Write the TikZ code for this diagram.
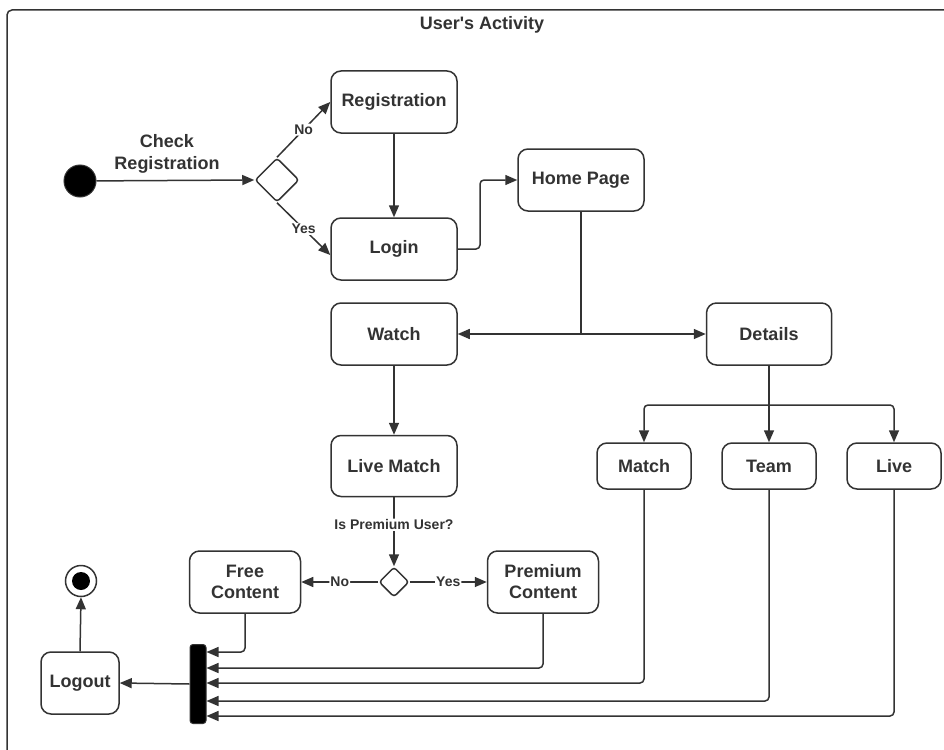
\documentclass[tikz,border=0pt]{standalone}
\usepackage{fontspec}
\setmainfont{Liberation Sans}
\usetikzlibrary{shapes.geometric,arrows.meta,calc}
\definecolor{ink}{HTML}{333333}
\begin{document}
\begin{tikzpicture}[x=1pt,y=-1pt,
  font=\bfseries\fontsize{18}{21}\selectfont,
  box/.style={draw=ink, line width=1.5pt, rounded corners=10pt, minimum width=126pt,
    minimum height=62pt, inner sep=2pt, text=ink, align=center, fill=white},
  smallbox/.style={box, minimum width=94pt, minimum height=46pt},
  midbox/.style={box, minimum width=111pt, minimum height=62pt},
  arr/.style={draw=ink, line width=1.5pt, rounded corners=4pt, -{Triangle[length=12pt,width=10pt]}},
  line/.style={draw=ink, line width=1.5pt, rounded corners=4pt},
  lbl/.style={font=\bfseries\fontsize{14}{16}\selectfont, text=ink, fill=white, inner sep=1pt},
  decision/.style={diamond, draw=ink, line width=1.5pt, fill=white, inner sep=0pt, rounded corners=3pt},
  txt/.style={text=ink, align=center}]
\useasboundingbox (0,0) rectangle (944,749);
\fill[white] (0,0) rectangle (944,749);
% frame
\draw[ink, line width=1.5pt, rounded corners=5pt] (7,10) rectangle (990,800);
\node[txt] (title) at (482,25) {User\textquotesingle s Activity};

% nodes
\node[circle, fill=black, draw=ink, line width=1pt, minimum size=32pt, inner sep=0pt] (start) at (80,181) {};
\node[txt, font=\bfseries\fontsize{18}{22}\selectfont] (chk) at (167,154) {Check\\Registration};
\node[decision, minimum width=44pt, minimum height=44pt] (d1) at (277,180) {};
\node[box] (reg) at (394,102) {Registration};
\node[box] (login) at (394,249) {Login};
\node[box] (home) at (581,180) {Home Page};
\node[box] (watch) at (394,334) {Watch};
\node[box, minimum width=125pt] (details) at (769,334) {Details};
\node[smallbox] (match) at (644,466) {Match};
\node[smallbox] (team) at (769,466) {Team};
\node[smallbox] (live) at (894,466) {Live};
\node[box, minimum height=61pt] (lmatch) at (394,466) {Live Match};
\node[decision, minimum width=30pt, minimum height=30pt] (d2) at (394,582) {};
\node[midbox] (free) at (245,582) {Free\\Content};
\node[midbox] (prem) at (543,582) {Premium\\Content};
\node[box, minimum width=78pt] (logout) at (80,683) {Logout};
\node[rectangle, rounded corners=3pt, fill=black, draw=ink, line width=1pt, minimum width=16pt, minimum height=79pt, inner sep=0pt] (bar) at (198,684) {};
\node[circle, draw=ink, line width=1.5pt, fill=white, minimum size=31pt, inner sep=0pt] (final) at (81,581) {};
\node[circle, fill=black, minimum size=18pt, inner sep=0pt] (finalin) at (81,581) {};

% helper coordinates
\coordinate (lh) at (480,249);
\coordinate (hj) at (581,334);
\coordinate (dj) at (769,405);
\coordinate (y1) at (0,652);
\coordinate (y2) at (0,668);
\coordinate (y3) at (0,683);
\coordinate (y4) at (0,701);
\coordinate (y5) at (0,716);

% connectors
\draw[arr] (start) -- (d1.west);
\draw[arr] (d1.north) -- node[lbl] {No} (reg.west);
\draw[arr] (d1.south) -- node[lbl] {Yes} ([yshift=-6pt]login.west);
\draw[arr] (reg) -- (login);
\draw[arr] (login.east) -- (lh) |- (home.west);
\draw[line] (home.south) -- (hj);
\draw[arr] (hj) -- (watch.east);
\draw[arr] (hj) -- (details.west);
\draw[arr] (watch) -- (lmatch);
\draw[line] (details.south) -- (dj);
\draw[arr] (dj) -| (match.north);
\draw[arr] (dj) -- (team.north);
\draw[arr] (dj) -| (live.north);
\draw[arr] (lmatch.south) -- node[lbl, pos=0.4] {Is Premium User?} (d2.north);
\draw[arr] (d2.west) -- node[lbl] {No} (free.east);
\draw[arr] (d2.east) -- node[lbl] {Yes} (prem.west);
\draw[arr] (free.south) |- (bar.east |- y1);
\draw[arr] (prem.south) |- (bar.east |- y2);
\draw[arr] (match.south) |- (bar.east |- y3);
\draw[arr] (team.south) |- (bar.east |- y4);
\draw[arr] (live.south) |- (bar.east |- y5);
\draw[arr] (bar.west) -- (logout.east);
\draw[arr] (logout.north) -- (final.south);
\end{tikzpicture}
\end{document}
